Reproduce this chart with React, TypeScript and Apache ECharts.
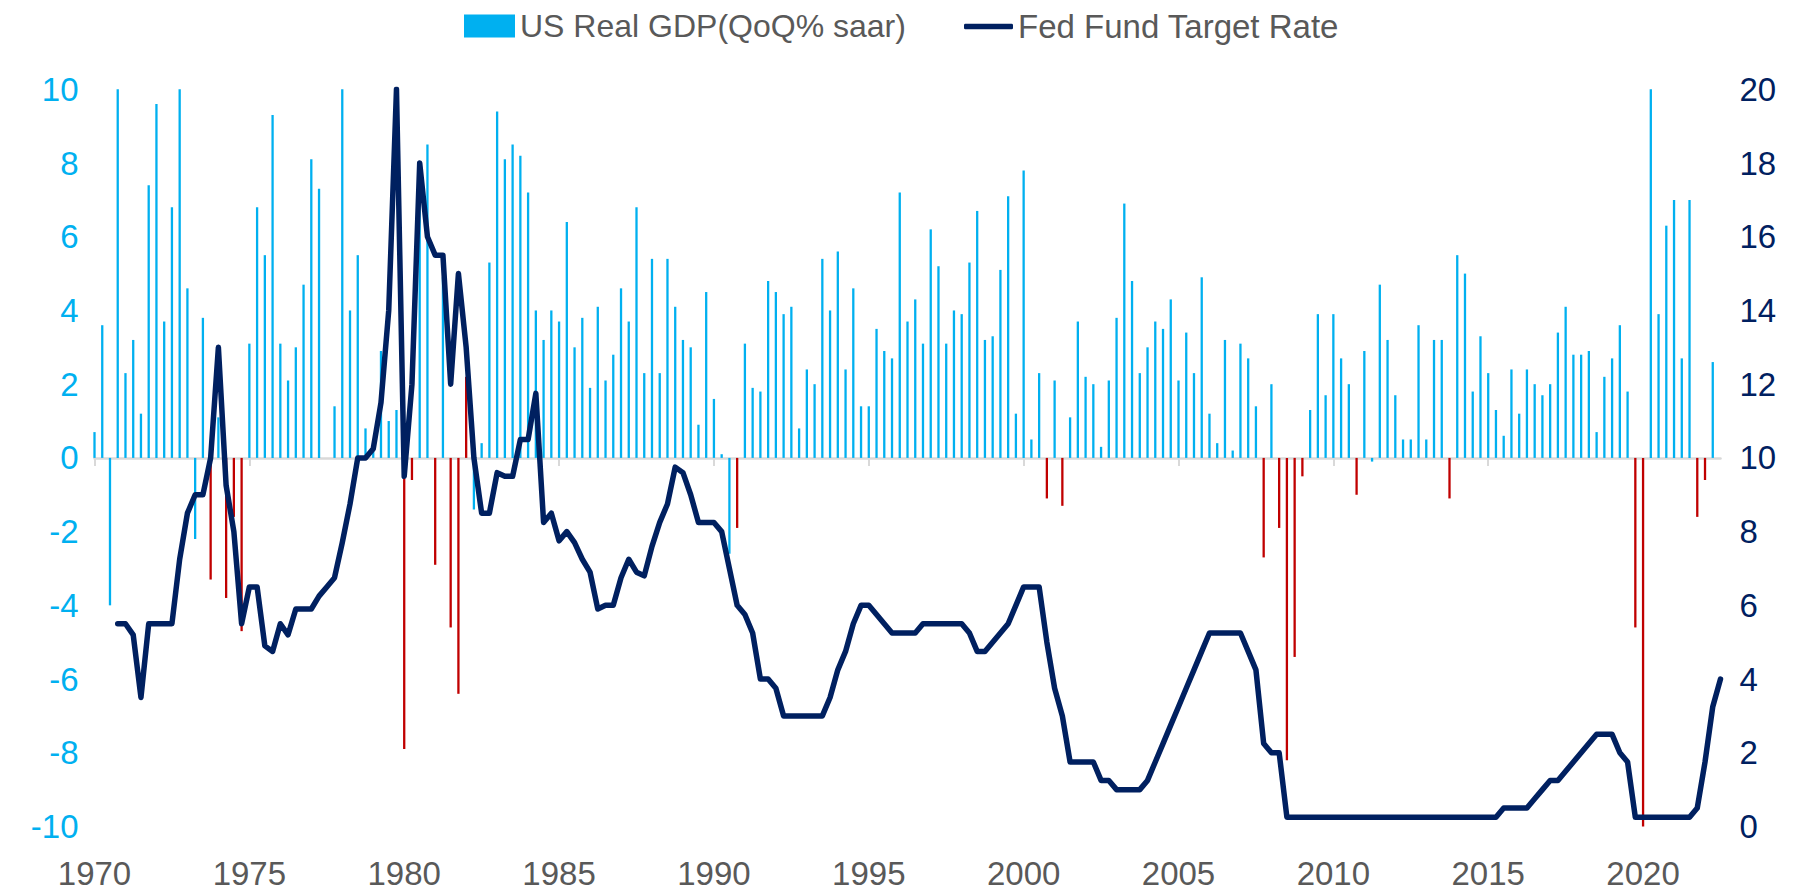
import React, { useEffect, useRef } from "react";
import * as echarts from "echarts";

// ---------- categories: quarters 1970Q2 .. 2022Q4 ----------
const firstYear = 1970;
const lastYear = 2022;
const quarters: string[] = [];
for (let y = firstYear; y <= lastYear; y++) {
  for (let q = 1; q <= 4; q++) {
    if (y === 1970 && q === 1) continue;
    quarters.push(`${y}Q${q}`);
  }
}

// ---------- US Real GDP, QoQ % saar (as displayed) ----------
const gdp1970s = [
  0.7, 3.6, -4.0, // 1970 Q2-Q4
  11.3, 2.3, 3.2, 1.2, // 1971
  7.4, 9.6, 3.7, 6.8, // 1972
  10.3, 4.6, -2.2, 3.8, // 1973
  -3.3, 1.1, -3.8, -1.6, // 1974
  -4.7, 3.1, 6.8, 5.5, // 1975
  9.3, 3.1, 2.1, 3.0, // 1976
  4.7, 8.1, 7.3, 0.0, // 1977
  1.4, 16.4, 4.0, 5.5, // 1978
  0.8, 0.4, 2.9, 1.0, // 1979
];
const gdp1980s = [
  1.3, -7.9, -0.6, 7.6,
  8.5, -2.9, 4.9, -4.6,
  -6.4, 2.2, -1.4, 0.4,
  5.3, 9.4, 8.1, 8.5,
  8.2, 7.2, 4.0, 3.2,
  4.0, 3.7, 6.4, 3.0,
  3.8, 1.9, 4.1, 2.1,
  2.8, 4.6, 3.7, 6.8,
  2.3, 5.4, 2.3, 5.4,
  4.1, 3.2, 3.0, 0.9,
];
const gdp1990s = [
  4.5, 1.6, 0.1, -2.6,
  -1.9, 3.1, 1.9, 1.8,
  4.8, 4.5, 3.9, 4.1,
  0.8, 2.4, 2.0, 5.4,
  4.0, 5.6, 2.4, 4.6,
  1.4, 1.4, 3.5, 2.9,
  2.7, 7.2, 3.7, 4.3,
  3.1, 6.2, 5.2, 3.1,
  4.0, 3.9, 5.3, 6.7,
  3.2, 3.3, 5.1, 7.1,
];
const gdp2000s = [
  1.2, 7.8, 0.5, 2.3,
  -1.1, 2.1, -1.3, 1.1,
  3.7, 2.2, 2.0, 0.3,
  2.1, 3.8, 6.9, 4.8,
  2.3, 3.0, 3.7, 3.5,
  4.3, 2.1, 3.4, 2.3,
  4.9, 1.2, 0.4, 3.2,
  0.2, 3.1, 2.7, 1.4,
  -2.7, 2.0, -1.9, -8.2,
  -5.4, -0.5, 1.3, 3.9,
];
const gdp2010s = [
  1.7, 3.9, 2.7, 2.0,
  -1.0, 2.9, -0.1, 4.7,
  3.2, 1.7, 0.5, 0.5,
  3.6, 0.5, 3.2, 3.2,
  -1.1, 5.5, 5.0, 1.8,
  3.3, 2.3, 1.3, 0.6,
  2.4, 1.2, 2.4, 2.0,
  1.7, 2.0, 3.4, 4.1,
  2.8, 2.8, 2.9, 0.7,
  2.2, 2.7, 3.6, 1.8,
];
const gdp2020s: (number | null)[] = [
  -4.6, -31.2, 33.8, 3.9,
  6.3, 7.0, 2.7, 7.0,
  -1.6, -0.6, 2.6, null,
];

// quarters whose bar is drawn in red in the reference
const redQuarters = [
  "1974Q1", "1974Q3", "1974Q4", "1975Q1",
  "1980Q2", "1980Q3", "1981Q2", "1981Q4", "1982Q1", "1982Q2",
  "1991Q1", "2001Q1", "2001Q3",
  "2008Q1", "2008Q3", "2008Q4", "2009Q1", "2009Q2",
  "2011Q1", "2014Q1", "2020Q1", "2020Q2", "2022Q1", "2022Q2",
];

// ---------- Fed Fund Target Rate (quarter end) ----------
const rate1970s: (number | null)[] = [
  null, null, null, // 1970 Q2-Q4
  5.5, 5.5, 5.2, 3.5, // 1971
  5.5, 5.5, 5.5, 5.5, // 1972
  7.25, 8.5, 9.0, 9.0, // 1973
  10.0, 13.0, 9.25, 8.0, // 1974
  5.5, 6.5, 6.5, 4.9, // 1975
  4.75, 5.5, 5.2, 5.9, // 1976
  5.9, 5.9, 6.25, 6.5, // 1977
  6.75, 7.7, 8.75, 10.0, // 1978
  10.0, 10.25, 11.5, 14.0, // 1979
];
const rate1980s = [
  20.0, 9.5, 12.0, 18.0,
  16.0, 15.5, 15.5, 12.0,
  15.0, 13.0, 10.0, 8.5,
  8.5, 9.6, 9.5, 9.5,
  10.5, 10.5, 11.75, 8.25,
  8.5, 7.75, 8.0, 7.7,
  7.25, 6.9, 5.9, 6.0,
  6.0, 6.75, 7.25, 6.9,
  6.8, 7.6, 8.25, 8.75,
  9.75, 9.6, 9.0, 8.25,
];
const rate1990s = [
  8.25, 8.25, 8.0, 7.0,
  6.0, 5.75, 5.25, 4.0,
  4.0, 3.75, 3.0, 3.0,
  3.0, 3.0, 3.0, 3.0,
  3.5, 4.25, 4.75, 5.5,
  6.0, 6.0, 5.75, 5.5,
  5.25, 5.25, 5.25, 5.25,
  5.5, 5.5, 5.5, 5.5,
  5.5, 5.5, 5.25, 4.75,
  4.75, 5.0, 5.25, 5.5,
];
const rate2000s = [
  6.0, 6.5, 6.5, 6.5,
  5.0, 3.75, 3.0, 1.75,
  1.75, 1.75, 1.75, 1.25,
  1.25, 1.0, 1.0, 1.0,
  1.0, 1.25, 1.75, 2.25,
  2.75, 3.25, 3.75, 4.25,
  4.75, 5.25, 5.25, 5.25,
  5.25, 5.25, 4.75, 4.25,
  2.25, 2.0, 2.0, 0.25,
  0.25, 0.25, 0.25, 0.25,
];
const rate2010s = [
  0.25, 0.25, 0.25, 0.25,
  0.25, 0.25, 0.25, 0.25,
  0.25, 0.25, 0.25, 0.25,
  0.25, 0.25, 0.25, 0.25,
  0.25, 0.25, 0.25, 0.25,
  0.25, 0.25, 0.25, 0.5,
  0.5, 0.5, 0.5, 0.75,
  1.0, 1.25, 1.25, 1.5,
  1.75, 2.0, 2.25, 2.5,
  2.5, 2.5, 2.0, 1.75,
];
const rate2020s = [
  0.25, 0.25, 0.25, 0.25,
  0.25, 0.25, 0.25, 0.25,
  0.5, 1.75, 3.25, 4.0,
];

const gdp = [...gdp1970s, ...gdp1980s, ...gdp1990s, ...gdp2000s, ...gdp2010s, ...gdp2020s];
const fedRate = [...rate1970s, ...rate1980s, ...rate1990s, ...rate2000s, ...rate2010s, ...rate2020s];

const GDP_NAME = "US Real GDP(QoQ% saar)";
const RATE_NAME = "Fed Fund Target Rate";
const BLUE = "#00B0F0";
const RED = "#C00000";
const NAVY = "#002060";
const GREY_TEXT = "#595959";
const FONT = "'Liberation Sans', Arial, sans-serif";

export default function App() {
  const ref = useRef<HTMLDivElement>(null);
  useEffect(() => {
    if (!ref.current) return;
    const chart = echarts.init(ref.current, undefined, { renderer: "svg" });
    const redSet = new Set(redQuarters);
    const option: any = {
      animation: false,
      backgroundColor: "#ffffff",
      grid: { left: 94.5, right: 74.5, top: 89.3, bottom: 65.5, containLabel: false },
      legend: [
        {
          data: [GDP_NAME],
          left: 459,
          top: 5,
          icon: "rect",
          itemWidth: 51,
          itemHeight: 23,
          selectedMode: false,
          textStyle: { color: GREY_TEXT, fontSize: 32, fontFamily: FONT },
        },
        {
          data: [{ name: RATE_NAME, icon: "roundRect", itemStyle: { color: NAVY } }],
          left: 959,
          top: 5,
          itemWidth: 49,
          itemHeight: 5.5,
          selectedMode: false,
          textStyle: { color: GREY_TEXT, fontSize: 33, fontFamily: FONT },
        },
      ],
      xAxis: [
        {
          type: "category",
          data: quarters,
          boundaryGap: false,
          position: "bottom",
          axisLine: { show: false, onZero: false },
          axisTick: { show: false },
          splitLine: { show: false },
          axisLabel: {
            interval: 19,
            formatter: (v: string) => v.slice(0, 4),
            color: GREY_TEXT,
            fontSize: 33,
            fontFamily: FONT,
            margin: 30,
          },
        },
        {
          type: "category",
          data: quarters,
          boundaryGap: false,
          position: "bottom",
          axisLine: {
            show: true,
            onZero: true,
            onZeroAxisIndex: 0,
            lineStyle: { color: "#d9d9d9", width: 2.5 },
          },
          axisTick: { show: true, interval: 19, length: 8, lineStyle: { color: "#d9d9d9", width: 2 } },
          axisLabel: { show: false },
          splitLine: { show: false },
        },
      ],
      yAxis: [
        {
          type: "value",
          position: "left",
          min: -10,
          max: 10,
          interval: 2,
          axisLine: { show: false },
          axisTick: { show: false },
          splitLine: { show: false },
          axisLabel: { color: BLUE, fontSize: 33, fontFamily: FONT, margin: 16 },
        },
        {
          type: "value",
          position: "right",
          min: 0,
          max: 20,
          interval: 2,
          axisLine: { show: false },
          axisTick: { show: false },
          splitLine: { show: false },
          axisLabel: { color: NAVY, fontSize: 33, fontFamily: FONT, margin: 19 },
        },
      ],
      series: [
        {
          name: GDP_NAME,
          type: "bar",
          xAxisIndex: 0,
          yAxisIndex: 0,
          barWidth: 2.3,
          itemStyle: { color: BLUE },
          data: gdp.map((v, i) =>
            v == null ? null : { value: v, itemStyle: { color: redSet.has(quarters[i]) ? RED : BLUE } }
          ),
        },
        {
          name: RATE_NAME,
          type: "line",
          xAxisIndex: 0,
          yAxisIndex: 1,
          symbol: "none",
          data: fedRate,
          itemStyle: { color: NAVY },
          lineStyle: { color: NAVY, width: 5.5, cap: "round", join: "round" },
        },
      ],
    };
    chart.setOption(option);
    return () => chart.dispose();
  }, []);
  return (
    <div
      ref={ref}
      style={{ position: "absolute", left: 0, top: 0, width: 1795, height: 892, background: "#fff" }}
    />
  );
}
